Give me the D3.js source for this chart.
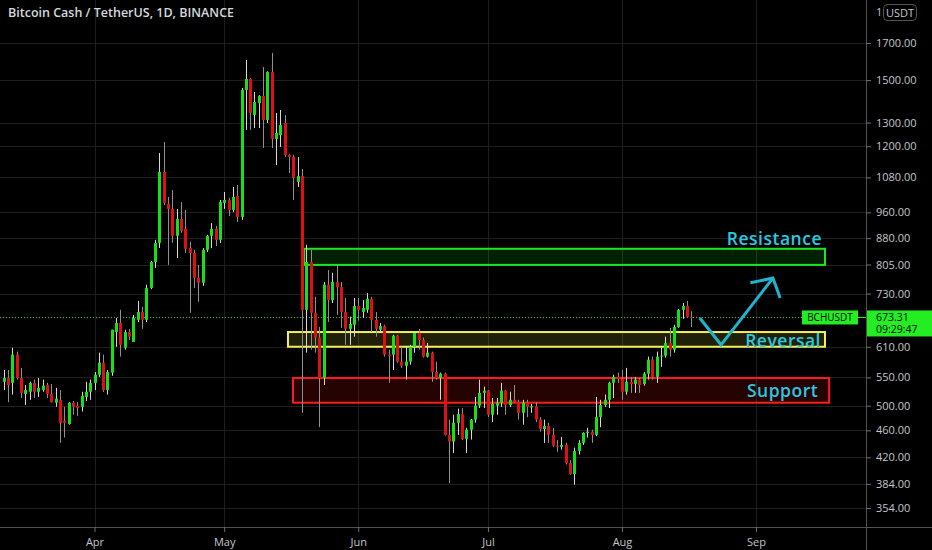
<!DOCTYPE html>
<html><head><meta charset="utf-8">
<script src="https://cdn.jsdelivr.net/npm/d3@7"></script>
<style>html,body{margin:0;padding:0;background:#000;}svg{display:block;}</style>
</head><body>
<svg id="c" width="932" height="550"></svg>
<script>
// ---- data ----
const title = "Bitcoin Cash / TetherUS, 1D, BINANCE";
const symbol = "BCHUSDT";
const startDate = "2021-03-11";
const open  = [542,549,540,594,549,520,524,540,524,527,536,520,505,510,475,470,505,500,498,515,
               524,540,555,578,527,559,641,661,608,641,620,668,686,668,744,812,866,1100,988,971,
               887,939,908,851,837,770,757,846,887,908,875,991,1001,968,1015,945,1451,1506,1333,1388,
               1422,1311,1542,1230,1246,1298,1165,1157,1064,1085,691,812,684,629,549,752,714,759,746,686,
               648,657,700,686,691,717,668,646,654,594,594,633,580,572,580,610,639,624,590,598,
               560,549,557,453,443,472,486,447,461,477,500,522,526,485,500,505,526,501,510,506,
               488,505,497,499,477,462,467,453,437,435,438,412,397,429,441,456,458,453,481,501,
               510,540,551,547,524,542,538,546,538,557,584,551,590,592,618,604,652,691,700,675];
const high  = [564,564,608,600,568,536,542,546,549,546,540,538,531,527,498,506,508,506,524,542,
               546,560,598,594,564,646,672,691,646,648,679,712,698,752,815,875,1173,1217,1011,1035,
               971,994,968,869,846,804,851,890,926,917,1001,1028,1008,1046,1053,1461,1605,1510,1441,1426,
               1568,1545,1644,1342,1356,1333,1168,1165,1157,1111,860,846,722,652,759,790,783,804,759,719,
               675,719,719,714,731,722,686,661,657,604,635,635,610,610,614,641,648,629,618,600,
               580,559,559,477,485,495,496,464,478,515,546,533,527,513,513,540,527,524,536,510,
               510,510,503,506,481,477,472,464,445,450,441,416,434,445,457,464,461,515,510,519,
               542,555,559,564,568,551,551,549,560,590,590,600,608,631,650,657,693,707,712,688];
const low   = [527,506,519,546,513,501,510,513,515,524,513,505,498,441,449,469,485,483,490,508,
               510,527,551,524,519,553,610,590,604,624,620,663,648,663,741,796,851,984,804,866,
               823,896,837,684,744,710,749,840,851,857,866,971,948,961,929,936,1268,1268,1276,1276,
               1193,1298,1193,1126,1197,1157,1096,1001,1046,488,598,604,598,465,536,663,707,679,650,614,
               614,631,666,672,684,641,631,639,590,540,564,578,568,546,574,598,604,588,588,542,
               546,510,452,385,426,453,445,426,446,472,496,496,481,473,485,498,485,498,505,477,
               469,481,488,473,458,441,441,435,428,431,410,396,383,424,438,449,441,451,465,498,
               496,513,540,510,519,522,522,522,535,546,546,540,570,588,590,598,650,670,672,652];
const close = [549,536,594,549,522,527,540,524,531,535,520,506,512,472,472,505,498,496,517,524,
               540,555,578,527,560,646,661,614,641,631,672,686,668,744,812,866,1100,991,971,887,
               939,902,849,837,770,757,846,887,908,875,994,1001,968,1011,945,1451,1506,1342,1393,1422,
               1311,1542,1230,1255,1289,1165,1157,1078,1085,691,812,684,629,549,752,714,759,746,686,648,
               659,700,691,695,717,668,648,654,594,591,633,580,572,580,610,639,624,590,598,560,
               549,557,453,443,472,486,447,461,477,500,522,526,485,503,505,526,501,510,506,488,
               505,498,499,477,462,467,453,437,435,438,412,397,429,441,456,458,453,481,501,510,
               540,551,547,524,542,538,546,536,557,584,551,590,592,618,604,652,691,700,675,673.31];
const lastPrice = 673.31;
const countdown = "09:29:47";
const quoteUnit = "USDT";
const priceTicks = [354,384,420,460,500,550,610,730,805,880,960,1080,1200,1300,1500,1700];
const monthTicks = ["2021-04-01","2021-05-01","2021-06-01","2021-07-01","2021-08-01","2021-09-01"];
const monthLabels = ["Apr","May","Jun","Jul","Aug","Sep"];
const zoneNames  = ["Resistance","Reversal","Support"];
const zoneHigh   = [849, 641, 549];
const zoneLow    = [804, 610, 505];
const zoneFrom   = ["2021-05-19T11:00Z","2021-05-15T18:00Z","2021-05-16T22:00Z"];
const zoneTo     = ["2021-09-16T23:00Z","2021-09-16T23:00Z","2021-09-17T22:00Z"];
const zoneLabelPrice = [880, 624, 527];
const zoneLabelInset = [3, 4, 11];
const zoneStroke = ["#1ee61e","#f5ef5a","#ff1c1c"];
const zoneFill   = ["rgba(20,200,20,0.16)","rgba(230,220,60,0.14)","rgba(230,20,20,0.16)"];
const arrowDates  = ["2021-08-19T00:00Z","2021-08-23T22:00Z","2021-09-04T22:00Z"];
const arrowPrices = [672, 614, 769];
const headDates   = ["2021-08-30T17:00Z","2021-09-04T22:00Z","2021-09-06T14:00Z"];
const headPrices  = [757, 769, 719];

// ---- layout ----
const W = 932, H = 550, plotR = 866, plotB = 527;
const svg = d3.select("#c");
svg.append("rect").attr("width", W).attr("height", H).attr("fill", "#000");

const x = d3.scaleUtc().domain([new Date("2021-04-01"), new Date("2021-09-01")]).range([94.5, 756]);
const y = d3.scaleLog().domain([354, 1700]).range([508, 43]);
const dates = d3.utcDay.range(new Date(startDate), d3.utcDay.offset(new Date(startDate), close.length));
const candles = dates.map((d, i) => ({d, o: open[i], h: high[i], l: low[i], c: close[i]}));

svg.append("defs").append("clipPath").attr("id", "plot")
  .append("rect").attr("x", 0).attr("y", 0).attr("width", plotR).attr("height", plotB);

// grid
const grid = svg.append("g").attr("clip-path", "url(#plot)");
grid.selectAll("line.h").data(priceTicks).join("line")
  .attr("x1", 0).attr("x2", plotR).attr("y1", d => Math.round(y(d)) + 0.5).attr("y2", d => Math.round(y(d)) + 0.5)
  .attr("stroke", "#1f1f1f").attr("stroke-width", 1);
grid.selectAll("line.v").data(monthTicks).join("line")
  .attr("y1", 0).attr("y2", plotB).attr("x1", d => Math.round(x(new Date(d))) + 0.5).attr("x2", d => Math.round(x(new Date(d))) + 0.5)
  .attr("stroke", "#1f1f1f").attr("stroke-width", 1);

const plot = svg.append("g").attr("clip-path", "url(#plot)");

// zones
zoneNames.forEach((n, i) => {
  const x0 = x(new Date(zoneFrom[i])), x1 = x(new Date(zoneTo[i]));
  const y0 = y(zoneHigh[i]), y1 = y(zoneLow[i]);
  plot.append("rect").attr("x", x0).attr("y", y0).attr("width", x1 - x0).attr("height", y1 - y0)
    .attr("fill", zoneFill[i]).attr("stroke", zoneStroke[i]).attr("stroke-width", 2);
});

// price line
plot.append("line").attr("x1", 0).attr("x2", plotR).attr("y1", y(lastPrice)).attr("y2", y(lastPrice))
  .attr("stroke", "#22d422").attr("stroke-width", 1).attr("stroke-dasharray", "1,2");

// candles
const bw = 3;
const cg = plot.append("g");
cg.selectAll("line.w").data(candles).join("line")
  .attr("x1", d => Math.round(x(d.d)) + 0.5).attr("x2", d => Math.round(x(d.d)) + 0.5)
  .attr("y1", d => y(d.h)).attr("y2", d => y(d.l))
  .attr("stroke", d => d.c >= d.o ? "#d8d8d8" : "#909090").attr("stroke-width", 1);
cg.selectAll("rect.b").data(candles).join("rect")
  .attr("x", d => Math.round(x(d.d)) - 1).attr("width", bw)
  .attr("y", d => y(Math.max(d.o, d.c)))
  .attr("height", d => Math.max(1, Math.abs(y(d.o) - y(d.c))))
  .attr("fill", d => d.c >= d.o ? "#16e016" : "#e01010");

// arrow annotation
const line = d3.line().x(d => x(new Date(d[0]))).y(d => y(d[1]));
plot.append("path").attr("d", line(arrowDates.map((d, i) => [d, arrowPrices[i]])))
  .attr("fill", "none").attr("stroke", "#1fb3cf").attr("stroke-width", 3).attr("stroke-linejoin", "miter");
plot.append("path").attr("d", line(headDates.map((d, i) => [d, headPrices[i]])))
  .attr("fill", "none").attr("stroke", "#1fb3cf").attr("stroke-width", 3);

// zone labels
zoneNames.forEach((n, i) => {
  svg.append("text").attr("x", x(new Date(zoneTo[i])) - zoneLabelInset[i]).attr("y", y(zoneLabelPrice[i]))
    .attr("text-anchor", "end").attr("dominant-baseline", "central")
    .attr("font-family", "'Open Sans', sans-serif").attr("font-weight", 600).attr("font-size", 17.5)
    .attr("letter-spacing", 0.5)
    .attr("fill", "#2cc8e0").text(n);
});

// axes lines
svg.append("line").attr("x1", 0).attr("x2", W).attr("y1", plotB + 0.5).attr("y2", plotB + 0.5).attr("stroke", "#505050");
svg.append("line").attr("x1", plotR + 0.5).attr("x2", plotR + 0.5).attr("y1", 0).attr("y2", H).attr("stroke", "#505050");

// right axis
const ya = svg.append("g").attr("transform", `translate(${plotR},0)`)
  .call(d3.axisRight(y).tickValues(priceTicks).tickFormat(d3.format(".2f")).tickSize(5).tickPadding(5));
ya.select(".domain").remove();
ya.selectAll(".tick line").attr("stroke", "#707070");
ya.selectAll(".tick text").attr("fill", "#c4c6cc").attr("font-family", "'Open Sans', sans-serif").attr("font-size", 11);

// bottom axis
const xa = svg.append("g").attr("transform", `translate(0,${plotB})`)
  .call(d3.axisBottom(x).tickValues(monthTicks.map(d => new Date(d))).tickFormat((d, i) => monthLabels[i]).tickSize(5).tickPadding(6));
xa.select(".domain").remove();
xa.selectAll(".tick line").attr("stroke", "#707070");
xa.selectAll(".tick text").attr("fill", "#c4c6cc").attr("font-family", "'Open Sans', sans-serif").attr("font-size", 11);

// title
svg.append("text").attr("x", 8).attr("y", 16.5).attr("fill", "#d6d8de")
  .attr("font-family", "'Open Sans', sans-serif").attr("font-weight", 600).attr("font-size", 12.5).text(title);

// currency badge
svg.append("text").attr("x", 876).attr("y", 16).attr("fill", "#c4c6cc")
  .attr("font-family", "'Open Sans', sans-serif").attr("font-size", 11).text("1");
svg.append("rect").attr("x", 883.5).attr("y", 4.5).attr("width", 33).attr("height", 16).attr("rx", 4)
  .attr("fill", "#000").attr("stroke", "#555");
svg.append("text").attr("x", 900).attr("y", 16.5).attr("text-anchor", "middle").attr("fill", "#c4c6cc")
  .attr("font-family", "'Open Sans', sans-serif").attr("font-size", 11).text(quoteUnit);

// last price label
const py = y(lastPrice);
svg.append("rect").attr("x", plotR + 1).attr("y", py - 7).attr("width", W - plotR - 1).attr("height", 26).attr("fill", "#22ee22");
svg.append("text").attr("x", 876).attr("y", py + 3.5).attr("fill", "#000")
  .attr("font-family", "'Open Sans', sans-serif").attr("font-size", 10.5).text(d3.format(".2f")(lastPrice));
svg.append("text").attr("x", 876).attr("y", py + 16).attr("fill", "#000")
  .attr("font-family", "'Open Sans', sans-serif").attr("font-size", 10.5).text(countdown);
svg.append("rect").attr("x", 802).attr("y", py - 7).attr("width", 56).attr("height", 14).attr("fill", "#22ee22");
svg.append("line").attr("x1", 858).attr("x2", plotR).attr("y1", py).attr("y2", py).attr("stroke", "#22ee22");
svg.append("text").attr("x", 830).attr("y", py + 4).attr("text-anchor", "middle").attr("fill", "#000")
  .attr("font-family", "'Open Sans', sans-serif").attr("font-size", 10).text(symbol);
</script>
</body></html>
